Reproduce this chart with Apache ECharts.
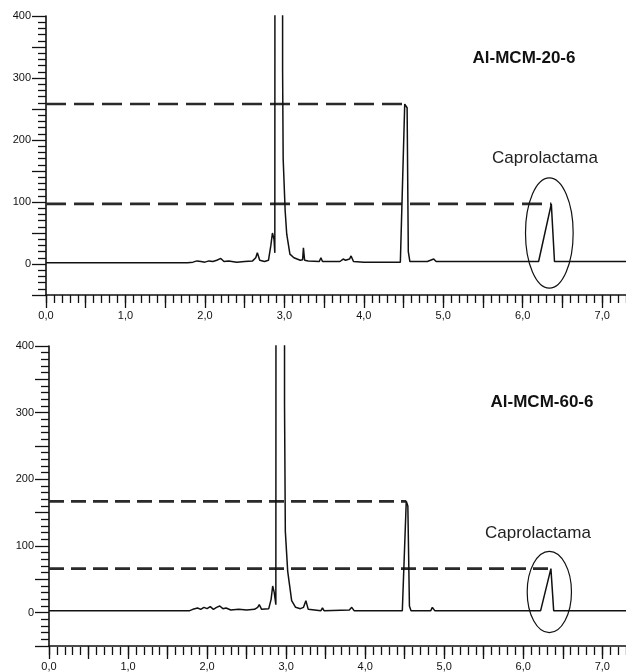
<!DOCTYPE html>
<html>
<head>
<meta charset="utf-8">
<script src="https://cdn.jsdelivr.net/npm/echarts@6/dist/echarts.min.js"></script>
<style>
    html, body { margin: 0; padding: 0; background: #fff; }
    #chart { width: 626px; height: 672px; }
</style>
</head>
<body>
<div id="chart"></div>
<script>
// retention time (min) and signal
const timeA = [0, 1.78, 1.80, 1.85, 1.90, 1.95, 2.00, 2.05, 2.10, 2.15, 2.20, 2.24, 2.30, 2.40, 2.50, 2.60, 2.64, 2.66, 2.69, 2.75, 2.80, 2.83, 2.85, 2.87, 2.88, 2.895, 2.94, 2.978, 2.985, 3.01, 3.03, 3.07, 3.12, 3.16, 3.20, 3.23, 3.24, 3.255, 3.30, 3.44, 3.46, 3.48, 3.70, 3.74, 3.77, 3.82, 3.84, 3.87, 4.00, 4.46, 4.515, 4.545, 4.56, 4.58, 4.80, 4.84, 4.86, 4.88, 4.91, 6.20, 6.36, 6.40, 7.3];
const signalA = [2, 2, 4, 3, 5, 4, 3, 5, 4, 6, 9, 4, 5, 3, 4, 5, 10, 18, 6, 4, 6, 30, 50, 40, 18, 20, 20000, 310, 170, 86, 48, 16, 10, 8, 6, 7, 26, 6, 5, 4, 10, 4, 4, 8, 6, 8, 13, 4, 3, 3, 258, 252, 20, 4, 4, 6, 5, 8, 4, 4, 97, 4, 4];

const timeB = [0, 1.78, 1.82, 1.88, 1.92, 1.96, 2.00, 2.04, 2.08, 2.12, 2.16, 2.20, 2.24, 2.30, 2.40, 2.50, 2.60, 2.64, 2.66, 2.69, 2.78, 2.81, 2.83, 2.85, 2.87, 2.895, 2.94, 2.98, 2.99, 3.02, 3.07, 3.12, 3.18, 3.22, 3.25, 3.28, 3.44, 3.46, 3.48, 3.80, 3.83, 3.86, 4.47, 4.52, 4.54, 4.56, 4.58, 4.83, 4.85, 4.88, 6.22, 6.35, 6.385, 7.3];
const signalB = [3, 3, 5, 7, 5, 8, 6, 9, 5, 8, 10, 6, 7, 4, 5, 4, 5, 8, 12, 5, 6, 20, 40, 30, 12, 15, 20000, 310, 122, 62, 18, 8, 6, 8, 18, 5, 3, 7, 3, 4, 8, 3, 3, 167, 160, 10, 3, 3, 8, 3, 3, 66, 3, 3];

// dashed guides: [height, end time]
const guidesA = [[258, 4.515], [97, 6.36]];
const guidesB = [[167, 4.52], [66, 6.35]];

// circled caprolactama peak: [centre time, centre signal, half width, half height]
const ringA = [6.335, 50, 0.30, 89];
const ringB = [6.33, 31, 0.28, 61];

const majorTimes = [0, 0.5, 1, 1.5, 2, 2.5, 3, 3.5, 4, 4.5, 5, 5.5, 6, 6.5, 7];
const labelTimes = [0, 1, 2, 3, 4, 5, 6, 7];

const titles = ['Al-MCM-20-6', 'Al-MCM-60-6'];
const peakName = 'Caprolactama';

const font = 'Liberation Sans, Arial, sans-serif';

function pairs(xs, ys) {
    return xs.map(function (x, i) {
        return [x, ys[i]];
    });
}

// main x axis: long ticks every 0.5, labels every 1
function xAxisFor(idx) {
    return {
        type: 'value',
        gridIndex: idx,
        min: 0,
        max: 7.3,
        interval: 0.5,
        splitLine: { show: false },
        axisLine: { onZero: false, lineStyle: { color: '#111', width: 1.6 } },
        axisTick: { length: 13, customValues: majorTimes, lineStyle: { color: '#111', width: 1.3 } },
        axisLabel: {
            margin: 15,
            fontSize: 11,
            fontFamily: font,
            color: '#111',
            customValues: labelTimes,
            formatter: function (v) {
                if (Math.abs(v - Math.round(v)) > 1e-6) return '';
                return v.toFixed(1).replace('.', ',');
            },
        },
    };
}

// overlay x axis: short ticks every 0.1
function xMinorFor(idx) {
    return {
        type: 'value',
        gridIndex: idx,
        min: 0,
        max: 7.3,
        interval: 0.1,
        splitLine: { show: false },
        axisLine: { show: false, onZero: false },
        axisTick: { show: true, length: 8, lineStyle: { color: '#111', width: 1.3 } },
        axisLabel: { show: false },
    };
}

function yAxisFor(idx) {
    return {
        type: 'value',
        gridIndex: idx,
        min: -50,
        max: 400,
        interval: 50,
        splitLine: { show: false },
        axisLine: { show: true, onZero: false, lineStyle: { color: '#111', width: 1.6 } },
        axisTick: { show: true, length: 14, lineStyle: { color: '#111', width: 1.3 } },
        minorTick: { show: true, splitNumber: 5, length: 8, lineStyle: { color: '#111', width: 1.3 } },
        axisLabel: {
            margin: 15,
            fontSize: 11,
            fontFamily: font,
            color: '#111',
            formatter: function (v) {
                return v >= 0 && v % 100 === 0 ? String(v) : '';
            },
        },
    };
}

function traceSeries(idx, xs, ys) {
    return {
        type: 'line',
        xAxisIndex: idx,
        yAxisIndex: idx,
        data: pairs(xs, ys),
        showSymbol: false,
        clip: true,
        lineStyle: { color: '#111', width: 1.5 },
        z: 3,
    };
}

function guideSeries(idx, guide, dash) {
    return {
        type: 'line',
        xAxisIndex: idx,
        yAxisIndex: idx,
        data: [[0, guide[0]], [guide[1], guide[0]]],
        showSymbol: false,
        lineStyle: { color: '#2a2a2a', width: 2.6, type: dash },
        z: 2,
    };
}

function ringSeries(idx, ring) {
    return {
        type: 'custom',
        xAxisIndex: idx,
        yAxisIndex: idx,
        data: [ring],
        renderItem: function (params, api) {
            const c = api.coord([api.value(0), api.value(1)]);
            const s = api.size([api.value(2), api.value(3)]);
            return {
                type: 'ellipse',
                shape: { cx: c[0], cy: c[1], rx: s[0], ry: s[1] },
                style: { fill: 'none', stroke: '#111', lineWidth: 1.2 },
            };
        },
        z: 4,
    };
}

const gridTop = { left: 46, top: 16, right: 0, height: 279 };
const gridBottom = { left: 49, top: 346, right: 0, height: 301 };

const myChart = echarts.init(document.getElementById('chart'));
const option = {
    animation: false,
    backgroundColor: '#fff',
    grid: [gridTop, gridBottom, gridTop, gridBottom],
    xAxis: [xAxisFor(0), xAxisFor(1), xMinorFor(2), xMinorFor(3)],
    yAxis: [yAxisFor(0), yAxisFor(1), { gridIndex: 2, show: false }, { gridIndex: 3, show: false }],
    series: [
        traceSeries(0, timeA, signalA),
        guideSeries(0, guidesA[0], [20, 8]),
        guideSeries(0, guidesA[1], [20, 8]),
        ringSeries(0, ringA),
        traceSeries(1, timeB, signalB),
        guideSeries(1, guidesB[0], [15, 7]),
        guideSeries(1, guidesB[1], [15, 7]),
        ringSeries(1, ringB),
    ],
    graphic: [
        {
            type: 'text', x: 524, y: 58,
            style: { text: titles[0], font: 'bold 17px ' + font, fill: '#111', align: 'center', verticalAlign: 'middle' },
        },
        {
            type: 'text', x: 545, y: 158,
            style: { text: peakName, font: '17px ' + font, fill: '#222', align: 'center', verticalAlign: 'middle' },
        },
        {
            type: 'text', x: 542, y: 402,
            style: { text: titles[1], font: 'bold 17px ' + font, fill: '#111', align: 'center', verticalAlign: 'middle' },
        },
        {
            type: 'text', x: 538, y: 533,
            style: { text: peakName, font: '17px ' + font, fill: '#222', align: 'center', verticalAlign: 'middle' },
        },
    ],
};
myChart.setOption(option);
</script>
</body>
</html>
